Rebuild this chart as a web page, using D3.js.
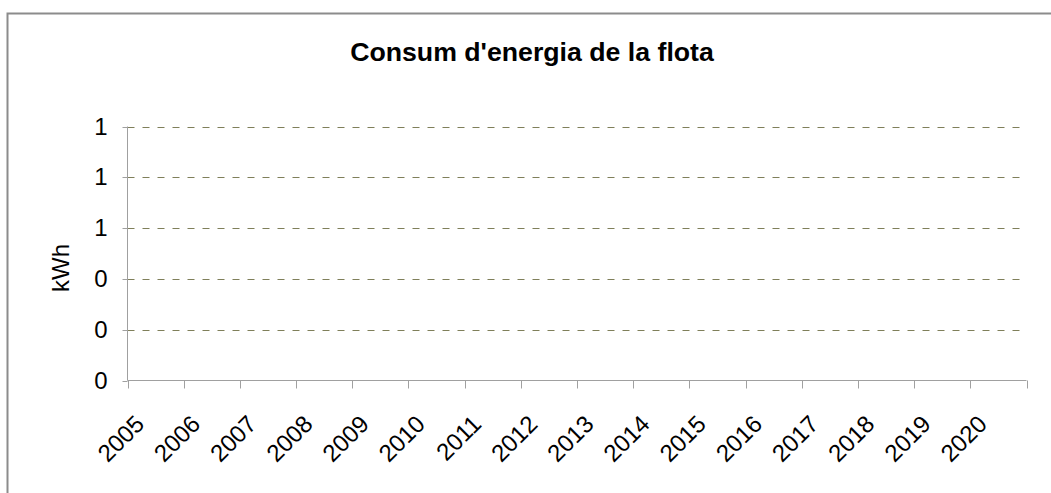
<!DOCTYPE html>
<html><head><meta charset="utf-8">
<script src="https://cdn.jsdelivr.net/npm/d3@7"></script>
<style>
html,body{margin:0;padding:0;background:#fff;}
svg{display:block;font-family:"Liberation Sans",Arial,sans-serif;}
</style></head>
<body><svg id="c" width="1051" height="493"></svg>
<script>
const title = "Consum d'energia de la flota";
const yLabel = "kWh";
const categories = ["2005","2006","2007","2008","2009","2010","2011","2012","2013","2014","2015","2016","2017","2018","2019","2020"];
const seriesValues = []; // no data plotted
const yTicks = [0, 0.2, 0.4, 0.6, 0.8, 1.0];
const yTickLabels = ["0","0","0","1","1","1"];

const svg = d3.select("#c");
const m = {left:127.5, top:126.5, right:1026.5, bottom:380.5};
const FONT = "Liberation Sans, Arial, sans-serif";

// outer border
svg.append("path").attr("d","M7.5,500 L7.5,13.5 L1060,13.5")
  .attr("fill","none").attr("stroke","#8c8c8c").attr("stroke-width",2);

const x = d3.scaleBand().domain(categories).range([m.left, m.right]);
const y = d3.scaleLinear().domain([0,1]).range([m.bottom, m.top]);

// gridlines
svg.append("g").selectAll("line").data(yTicks.filter(d=>d>0)).join("line")
  .attr("x1", m.left).attr("x2", m.right)
  .attr("y1", d=>Math.round(y(d))+0.5).attr("y2", d=>Math.round(y(d))+0.5)
  .attr("stroke","#7f7f5a").attr("stroke-width",1).attr("stroke-dasharray","7,8");

// y axis
const yAxis = d3.axisLeft(y).tickValues(yTicks).tickSize(5).tickPadding(15)
  .tickFormat((d,i)=>yTickLabels[i]);
const gy = svg.append("g").attr("transform",`translate(${m.left},0)`).call(yAxis);
gy.select(".domain").attr("stroke","#a0a0a0").attr("d",`M0,${m.top}V${m.bottom}`);
gy.selectAll(".tick line").attr("stroke","#a0a0a0");
gy.selectAll(".tick").attr("transform", d=>`translate(0,${Math.round(y(d))+0.5})`);
gy.selectAll("text").attr("font-size",24).attr("fill","#000").attr("font-family",FONT);

// x axis
const xAxis = d3.axisBottom(x).tickSize(0).tickFormat(d=>d);
const gx = svg.append("g").attr("transform",`translate(0,${m.bottom})`).call(xAxis);
gx.select(".domain").attr("stroke","#a0a0a0").attr("d",`M${m.left},0H${m.right}`);
// category boundary ticks
const bounds = categories.map(c=>x(c)).concat([m.right]);
gx.append("g").selectAll("line").data(bounds).join("line")
  .attr("x1",d=>Math.round(d)+0.5).attr("x2",d=>Math.round(d)+0.5).attr("y1",0).attr("y2",8)
  .attr("stroke","#a0a0a0");
gx.selectAll(".tick text")
  .attr("font-size",24).attr("fill","#000").attr("font-family",FONT)
  .attr("text-anchor","end").attr("dy",null).attr("y",null)
  .attr("transform","translate(-10,45) rotate(-45)");

// title
svg.append("text").attr("x",532).attr("y",61).attr("text-anchor","middle")
  .attr("font-family",FONT).attr("font-size",26.7).attr("font-weight","bold").text(title);

// y label
svg.append("text").attr("transform",`translate(69,268) rotate(-90)`)
  .attr("text-anchor","middle").attr("font-family",FONT).attr("font-size",24).text(yLabel);
</script>
</body></html>
